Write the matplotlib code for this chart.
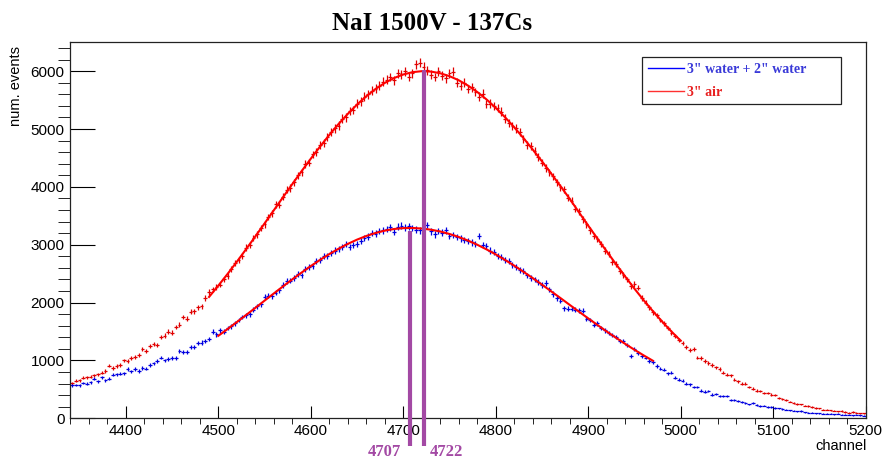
import numpy as np
import matplotlib.pyplot as plt
from matplotlib.ticker import MultipleLocator
from matplotlib.lines import Line2D

plt.rcParams['font.family'] = ['Liberation Sans', 'DejaVu Sans']

# histogram: 4-channel bins, 4340..5200
bin_width = 4
channels = np.arange(4342, 5200, bin_width)

counts_air = [
    605, 650, 660, 700, 710, 715, 740, 760, 790, 820,
    910, 870, 900, 920, 1000, 990, 1040, 1060, 1090, 1200,
    1160, 1250, 1290, 1270, 1410, 1430, 1500, 1480, 1580, 1620,
    1750, 1720, 1840, 1850, 1920, 1940, 2080, 2180, 2230, 2270,
    2310, 2400, 2460, 2580, 2680, 2730, 2810, 2950, 3000, 3120,
    3180, 3290, 3350, 3480, 3540, 3700, 3690, 3830, 3950, 3980,
    4080, 4200, 4250, 4400, 4420, 4560, 4600, 4720, 4760, 4870,
    4950, 5010, 5060, 5180, 5200, 5310, 5330, 5440, 5480, 5560,
    5600, 5660, 5700, 5750, 5820, 5850, 5900, 5840, 5960, 5950,
    6000, 5900, 5960, 6120, 6150, 6080, 6020, 5940, 5900, 6000,
    5920, 5880, 5960, 5990, 5800, 5750, 5800, 5690, 5720, 5640,
    5560, 5610, 5430, 5440, 5400, 5360, 5300, 5180, 5110, 5050,
    5010, 4950, 4830, 4720, 4700, 4620, 4520, 4420, 4330, 4250,
    4180, 4080, 3990, 3960, 3810, 3760, 3620, 3580, 3440, 3350,
    3250, 3150, 3100, 3010, 2900, 2840, 2700, 2660, 2540, 2480,
    2400, 2290, 2320, 2260, 2080, 2000, 1920, 1830, 1780, 1700,
    1640, 1560, 1480, 1420, 1350, 1300, 1230, 1180, 1200, 1050,
    1040, 990, 960, 920, 880, 850, 790, 750, 740, 670,
    640, 600, 600, 540, 510, 480, 470, 440, 440, 410,
    400, 350, 340, 320, 290, 270, 250, 240, 220, 210,
    190, 180, 170, 150, 150, 140, 130, 120, 125, 110,
    100, 110, 95, 90, 85,
]

counts_water = [
    570, 575, 570, 610, 600, 620, 680, 640, 710, 660,
    680, 750, 760, 770, 775, 850, 810, 850, 820, 870,
    860, 920, 950, 990, 1050, 1000, 1020, 1040, 1040, 1160,
    1150, 1150, 1230, 1240, 1300, 1310, 1340, 1370, 1500, 1450,
    1520, 1500, 1560, 1590, 1640, 1700, 1750, 1780, 1800, 1880,
    1940, 1970, 2100, 2120, 2110, 2170, 2210, 2300, 2370, 2380,
    2420, 2500, 2470, 2580, 2620, 2640, 2720, 2730, 2800, 2810,
    2850, 2900, 2920, 2960, 3010, 2960, 2990, 3010, 3060, 3120,
    3140, 3200, 3190, 3240, 3250, 3270, 3300, 3220, 3310, 3330,
    3300, 3320, 3290, 3260, 3250, 3200, 3340, 3230, 3180, 3240,
    3210, 3250, 3150, 3170, 3130, 3110, 3080, 3060, 3040, 3010,
    3150, 2990, 2980, 2900, 2880, 2800, 2790, 2730, 2720, 2650,
    2620, 2560, 2540, 2470, 2420, 2400, 2360, 2300, 2340, 2230,
    2150, 2080, 2030, 1900, 1890, 1890, 1880, 1870, 1860, 1720,
    1700, 1620, 1640, 1560, 1520, 1470, 1440, 1400, 1340, 1330,
    1260, 1080, 1200, 1130, 1080, 1050, 990, 970, 900, 860,
    840, 780, 790, 700, 670, 650, 600, 590, 540, 540,
    480, 460, 470, 410, 420, 390, 380, 380, 320, 310,
    300, 280, 260, 240, 270, 230, 210, 220, 190, 200,
    180, 170, 160, 150, 140, 130, 120, 125, 105, 100,
    95, 90, 90, 80, 80, 75, 70, 75, 60, 65,
    60, 55, 60, 50, 45,
]

# fitted curves, sampled every 10 channels
fit_air_ch = np.arange(4490, 5001, 10)
fit_air = [
    2097, 2292, 2494, 2704, 2921, 3142, 3367, 3594, 3821, 4047,
    4270, 4486, 4696, 4897, 5086, 5261, 5422, 5566, 5692, 5797,
    5881, 5943, 5983, 6000, 5993, 5964, 5914, 5843, 5751, 5641,
    5512, 5366, 5205, 5030, 4843, 4646, 4441, 4229, 4013, 3793,
    3560, 3330, 3105, 2885, 2665, 2450, 2240, 2040, 1850, 1670,
    1500, 1340,
]
fit_water_ch = np.arange(4500, 4971, 10)
fit_water = [
    1425, 1542, 1662, 1784, 1908, 2033, 2157, 2280, 2401, 2518,
    2631, 2738, 2838, 2930, 3014, 3088, 3151, 3203, 3244, 3272,
    3287, 3290, 3280, 3260, 3229, 3186, 3134, 3072, 3000, 2920,
    2833, 2738, 2638, 2532, 2423, 2310, 2194, 2078, 1960, 1843,
    1727, 1613, 1500, 1392, 1286, 1184, 1087, 994,
]

peak_ch = [4707, 4722]
peak_height = [3230, 6020]
peak_label_offset = [(-9, -34), (6, -34)]
peak_label_ha = ['right', 'left']

fig = plt.figure(figsize=(8.83, 4.59), dpi=100)
ax = fig.add_axes([0.0796, 0.0887, 0.9008, 0.8205])

ax.errorbar(channels, counts_air, xerr=bin_width / 2, yerr=np.sqrt(counts_air),
            fmt='none', ecolor='#e00000', elinewidth=0.9, capsize=0, zorder=2)
ax.errorbar(channels, counts_water, xerr=bin_width / 2, yerr=np.sqrt(counts_water),
            fmt='none', ecolor='#0000e0', elinewidth=0.9, capsize=0, zorder=2)

ax.plot(fit_air_ch, fit_air, color='red', lw=1.5, zorder=3)
ax.plot(fit_water_ch, fit_water, color='red', lw=1.5, zorder=3)

purple = '#a349a4'
for ch, h, off, ha in zip(peak_ch, peak_height, peak_label_offset, peak_label_ha):
    ax.plot([ch, ch], [-480, h], color=purple, lw=3, solid_capstyle='butt',
            clip_on=False, zorder=4)
    ax.annotate(str(ch), xy=(ch, 0), xytext=off, textcoords='offset pixels',
                ha=ha, va='center', color=purple, fontsize=12,
                fontfamily='Liberation Serif', fontweight='bold')

ax.set_xlim(4340, 5200)
ax.set_ylim(0, 6510)
ax.xaxis.set_major_locator(MultipleLocator(100))
ax.xaxis.set_minor_locator(MultipleLocator(20))
ax.yaxis.set_major_locator(MultipleLocator(1000))
ax.yaxis.set_minor_locator(MultipleLocator(200))
ax.tick_params(direction='in', top=False, right=False, labelsize=11, width=0.8)
ax.tick_params(axis='x', which='major', length=8.6, pad=4)
ax.tick_params(axis='x', which='minor', length=4.3)
ax.tick_params(axis='y', which='major', length=18, pad=4)
ax.tick_params(axis='y', which='minor', length=9)
for s in ax.spines.values():
    s.set_linewidth(0.9)
    s.set_color('#222222')

handles = [Line2D([], [], color='#0000ff', lw=1),
           Line2D([], [], color='#ff3030', lw=1)]
leg = ax.legend(handles, ['3" water + 2" water', '3" air'],
                loc='upper left', bbox_to_anchor=(0.7188, 0.9594, 0.2502, 0.0),
                mode='expand', borderaxespad=0, fancybox=False, edgecolor='#222222',
                framealpha=1, borderpad=0.4, labelspacing=0.75, handlelength=2.6,
                handletextpad=0.25,
                prop={'family': 'Liberation Serif', 'weight': 'bold', 'size': 10})
leg.get_frame().set_linewidth(0.9)
leg.get_texts()[0].set_color('#3a3ad8')
leg.get_texts()[1].set_color('#e82020')

fig.text(432 / 883, 1 - 24 / 459, 'NaI 1500V - 137Cs', ha='center', va='center',
         fontsize=18, fontfamily='Liberation Serif', fontweight='bold')
fig.text(16 / 883, 1 - 46 / 459, 'num. events', rotation=90, ha='center', va='top',
         fontsize=10.5)
fig.text(867 / 883, 1 - 446 / 459, 'channel', ha='right', va='center', fontsize=10.5)

fig.savefig('out.png', dpi=100)
